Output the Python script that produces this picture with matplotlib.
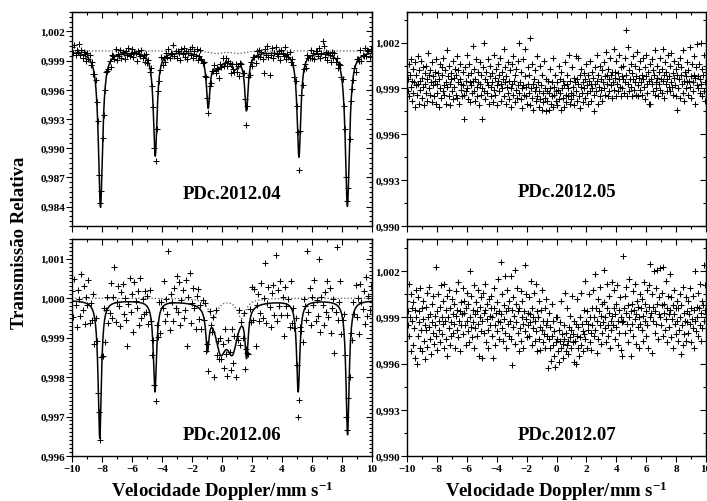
import numpy as np
import matplotlib
matplotlib.use('Agg')
import matplotlib.pyplot as plt
from matplotlib.ticker import MultipleLocator, FuncFormatter, NullFormatter

plt.rcParams['font.family'] = ['Liberation Serif', 'DejaVu Serif']
plt.rcParams['font.weight'] = 'bold'
plt.rcParams['mathtext.fontset'] = 'custom'
plt.rcParams['mathtext.rm'] = 'Liberation Serif:bold'
plt.rcParams['mathtext.it'] = 'Liberation Serif:bold'
plt.rcParams['mathtext.bf'] = 'Liberation Serif:bold'

# transmission readings, units of 1e-5 (100000 = 1,000)
# left panels: 256 channels, right panels: 512 channels, velocity -10..10 mm/s
t04 = [
    100037, 99981, 100060, 99954, 100007, 99990, 100072, 99960, 100011, 99927, 99993, 99972, 99895, 99977, 99916, 99960,
    99856, 99882, 99761, 99763, 99704, 99476, 99276, 98729, 98441, 98562, 99103, 99345, 99601, 99788, 99793, 99818,
    99900, 99839, 99960, 99943, 99921, 100021, 99905, 99968, 99951, 100013, 99930, 99992, 99975, 99917, 100002, 99958,
    100033, 99949, 99969, 100019, 99933, 99992, 99981, 99895, 100003, 99967, 99943, 100014, 99926, 99963, 99890, 99970,
    99874, 99905, 99783, 99820, 99640, 99428, 99000, 98870, 99198, 99585, 99693, 99807, 99933, 99857, 99930, 99890,
    99981, 99938, 100023, 99922, 99980, 99970, 100057, 99948, 100004, 99925, 99995, 99980, 99910, 100020, 99969, 100028,
    99942, 99997, 99916, 99981, 100020, 99958, 100042, 99930, 99999, 99943, 100017, 99907, 99950, 100005, 99921, 99875,
    99890, 99744, 99735, 99520, 99360, 99644, 99666, 99795, 99794, 99860, 99771, 99827, 99809, 99720, 99862, 99836,
    99927, 99849, 99875, 99928, 99841, 99895, 99873, 99773, 99865, 99814, 99785, 99861, 99786, 99842, 99740, 99878,
    99862, 99772, 99773, 99510, 99240, 99434, 99729, 99754, 99882, 99841, 99935, 99935, 99877, 99994, 99950, 100014,
    99933, 99990, 99912, 99773, 100019, 99962, 100048, 99939, 99749, 99955, 100035, 99930, 99979, 100044, 99973, 99948,
    99996, 99910, 100013, 99980, 99947, 100038, 99914, 99969, 99935, 99984, 99881, 99914, 99854, 99727, 99695, 99432,
    99168, 98780, 99176, 99548, 99654, 99819, 99870, 99822, 99954, 99932, 99923, 100005, 99925, 99975, 99912, 100004,
    100001, 99947, 100029, 99924, 99979, 100098, 100048, 99937, 99990, 99907, 99975, 99957, 99883, 99988, 99932, 99983,
    99887, 99926, 99826, 99862, 99859, 99734, 99715, 99430, 99202, 98703, 98460, 98586, 99094, 99488, 99612, 99701,
    99823, 99784, 99921, 99913, 99899, 100006, 99896, 99963, 99944, 100029, 99948, 100011, 99994, 99936, 100023, 99980,
]

t05 = [
    100010, 99880, 99960, 100060, 99850, 99990, 99910, 100090, 99820, 99950, 100030, 99870, 99940, 99780, 100070, 99920,
    99990, 99860, 100110, 99930, 99800, 100020, 99950, 99890, 100080, 99840, 99970, 100040, 99910, 99790, 100000, 99930,
    99870, 100050, 99960, 99820, 100130, 99900, 99990, 99860, 100020, 99940, 99810, 100070, 99920, 99980, 99850, 100010,
    99950, 99800, 100090, 99930, 99870, 100000, 99780, 99960, 100060, 99900, 99840, 100040, 99990, 99880, 100100, 99920,
    99860, 100020, 99940, 99800, 100150, 99910, 99980, 99850, 100050, 99930, 99790, 100000, 99960, 99880, 100080, 99830,
    99970, 99910, 100030, 99860, 99990, 100110, 99840, 99940, 100020, 99800, 99960, 100060, 99890, 99930, 99850, 100010,
    99920, 99860, 99700, 100040, 99950, 99880, 100120, 99900, 99990, 99830, 100060, 99940, 99810, 100000, 99920, 99870,
    100180, 99950, 99880, 100030, 99820, 99960, 100090, 99910, 99850, 100010, 99940, 99790, 100070, 99930, 99860, 99990,
    99900, 99700, 100040, 100200, 99880, 99960, 99830, 100010, 99940, 99870, 100090, 99920, 99800, 99980, 100050, 99910,
    99850, 100000, 99940, 99810, 100120, 99890, 99970, 99860, 100030, 99920, 99790, 100060, 99950, 99880, 99990, 100100,
    99930, 99820, 100010, 99900, 99960, 100160, 99850, 99940, 100040, 99800, 99980, 99910, 100070, 99870, 99950, 99830,
    100020, 99900, 99780, 100060, 99930, 99860, 100110, 99950, 99810, 99990, 99890, 100030, 99840, 99920, 100080, 99870,
    100200, 99940, 99830, 100010, 99900, 99770, 100090, 99920, 99860, 99980, 100160, 99850, 99910, 99800, 100040, 99930,
    99870, 99990, 99790, 100230, 99900, 99840, 100060, 99930, 99760, 99960, 99880, 100020, 99820, 99910, 100110, 99850,
    99940, 99780, 99880, 100050, 99830, 99920, 99760, 99990, 99870, 99810, 100080, 99900, 99840, 99750, 99960, 99880,
    99820, 99950, 99870, 99760, 100030, 99900, 99800, 99940, 99850, 100100, 99780, 99910, 99860, 99990, 99820, 99880,
    99940, 99790, 99890, 100050, 99830, 99960, 99870, 99760, 100010, 99900, 99840, 99950, 99780, 99920, 100070, 99860,
    99810, 99930, 99990, 99850, 99900, 100120, 99800, 99950, 99870, 99830, 100040, 99910, 99860, 99970, 99790, 99940,
    100110, 99880, 99960, 99820, 100100, 99930, 99850, 99990, 99770, 99910, 100030, 99870, 99940, 99810, 100000, 99900,
    99960, 99840, 100060, 99920, 99870, 99990, 99800, 99950, 100080, 99880, 99930, 99820, 100010, 99900, 99970, 99750,
    99860, 100040, 99930, 99880, 100120, 99950, 99800, 99990, 99910, 100050, 99850, 99960, 99890, 100020, 99820, 99940,
    100070, 99900, 99980, 99860, 100140, 99930, 99990, 99850, 100030, 99960, 99880, 100100, 99920, 99990, 99840, 100010,
    99940, 100160, 99890, 100010, 99970, 99850, 100080, 99930, 100000, 99880, 99960, 100120, 99910, 99850, 100040, 99980,
    99900, 100050, 99960, 99870, 100100, 99940, 99990, 100280, 99850, 100170, 99930, 100020, 99880, 99960, 100060, 99910,
    99850, 100000, 99960, 100110, 99890, 99940, 100050, 99860, 99980, 100140, 99920, 99850, 100030, 99970, 99890, 100080,
    99940, 99990, 99860, 100100, 99960, 99910, 100040, 99830, 99980, 100120, 99930, 99870, 100010, 99950, 99800, 100060,
    99800, 99960, 100090, 99930, 99880, 100020, 99990, 99860, 100150, 99940, 99900, 100050, 99970, 99850, 100010, 99930,
    100100, 99890, 99960, 100030, 99870, 100160, 99950, 99990, 99840, 100070, 99930, 100010, 99880, 99960, 100120, 99910,
    99980, 100050, 99880, 99940, 100130, 99910, 100000, 99860, 99970, 100080, 99920, 99850, 100030, 99760, 99990, 100060,
    99900, 99960, 100100, 99840, 99990, 100040, 99930, 99870, 100150, 99950, 99820, 100010, 99980, 99900, 100070, 99940,
    99860, 100020, 99950, 100170, 99910, 99980, 99840, 100060, 99940, 99880, 100110, 99990, 99800, 99970, 100040, 99920,
    100190, 99900, 99980, 100060, 99870, 99960, 100200, 99930, 99850, 100030, 99990, 99880, 100120, 99940, 99820, 100010,
]

t06 = [
    100018, 99953, 100048, 99983, 99927, 100022, 99997, 99956, 100061, 99970, 100030, 99934, 100003, 99982, 100045, 99938,
    99989, 99944, 100011, 99884, 99951, 99891, 99759, 99712, 99640, 99850, 99854, 99976, 99890, 99969, 100002, 99938,
    99962, 100039, 99951, 100002, 100080, 99939, 99990, 100030, 99980, 99930, 100015, 100035, 99960, 100000, 99945, 99880,
    99985, 100050, 99965, 100010, 99915, 100040, 99994, 99974, 100018, 99932, 100051, 99950, 99998, 99961, 100018, 99964,
    100006, 99935, 100022, 99941, 99857, 99893, 99780, 99740, 99933, 99902, 99991, 99912, 99990, 99976, 100044, 99941,
    99998, 99959, 100120, 99920, 100010, 99991, 99941, 100026, 99976, 100056, 99966, 100041, 99931, 99996, 100021, 99950,
    99970, 100045, 99880, 100004, 100064, 99938, 99987, 100026, 99975, 99923, 100006, 100024, 99946, 99982, 99922, 99995,
    99944, 99988, 99866, 99885, 99816, 99967, 99932, 99914, 99953, 99800, 99969, 99855, 99892, 99845, 99898, 99846,
    99883, 99823, 99921, 99858, 99803, 99893, 99864, 99818, 99922, 99836, 99905, 99800, 99903, 99895, 99971, 99881,
    99940, 99898, 99963, 99821, 99872, 99862, 99859, 99973, 99939, 100028, 99944, 100024, 99880, 99983, 100010, 99941,
    99963, 100039, 99950, 100001, 100090, 99937, 99988, 100028, 99978, 99928, 100013, 100033, 99958, 100110, 99942, 100021,
    99980, 100044, 99958, 100002, 99905, 100028, 99981, 99958, 99999, 99927, 100043, 99936, 99976, 99924, 99950, 99830,
    99700, 99743, 99928, 99917, 99889, 99997, 99980, 99944, 100120, 99965, 100026, 99932, 100002, 99982, 100047, 99942,
    99996, 99956, 100100, 99915, 100004, 99983, 99932, 100016, 99965, 100044, 99952, 100025, 99913, 99976, 99998, 99860,
    99964, 100130, 99944, 99990, 100044, 99910, 99945, 99959, 99856, 99698, 99665, 99747, 99800, 99912, 99893, 99991,
    99961, 100033, 99953, 100001, 99908, 100035, 99991, 99972, 100018, 99934, 100054, 99955, 100005, 99970, 100031, 99981,
]

t07 = [
    100010, 99850, 99940, 100120, 99780, 99900, 99680, 100050, 99880, 99960, 99720, 100000, 99830, 99640, 99950, 100080,
    99900, 99600, 99780, 100030, 99870, 99940, 99700, 100090, 99820, 99960, 99680, 99890, 100010, 99750, 99850, 99630,
    99970, 99820, 100060, 99710, 99900, 99840, 100100, 99760, 99920, 99660, 99990, 99870, 99800, 100040, 99730, 99910,
    99850, 100230, 99780, 99940, 99690, 100050, 99880, 99820, 99970, 99740, 100110, 99900, 99790, 99860, 100010, 99700,
    100120, 99880, 99760, 99950, 100040, 99650, 99900, 99830, 100080, 99720, 99960, 99870, 99780, 100020, 99920, 99800,
    99860, 99990, 99700, 100070, 99910, 99820, 99950, 100130, 99770, 99880, 99940, 99680, 100000, 99850, 99920, 100090,
    99790, 99930, 100010, 99850, 99720, 99960, 100060, 99880, 99810, 99990, 99740, 100200, 99900, 99840, 100040, 99770,
    99950, 99870, 100110, 99700, 99920, 99830, 100000, 99780, 99940, 100080, 99860, 99650, 99970, 99900, 99810, 100030,
    99640, 99880, 100060, 99930, 99800, 99950, 100120, 99740, 99890, 99990, 99820, 99700, 100020, 99910, 99850, 99960,
    100040, 99780, 99900, 99640, 99960, 100090, 99850, 99720, 99930, 100000, 99810, 99880, 100150, 99760, 99940, 99870,
    100260, 99920, 99830, 100050, 99750, 99980, 99890, 100170, 99800, 99940, 99700, 100080, 99860, 99960, 99780, 100010,
    99880, 100170, 99760, 99950, 99590, 100030, 99840, 99910, 100210, 99730, 99990, 99870, 100090, 99800, 99940, 99680,
    99960, 99830, 100070, 99750, 99900, 100010, 99860, 99700, 99940, 100240, 99810, 99890, 100050, 99770, 99930, 99850,
    100030, 99780, 99920, 99870, 100140, 99720, 99960, 99830, 99900, 100060, 99750, 99880, 100120, 99810, 99940, 99680,
    99900, 99760, 100010, 99840, 99690, 99950, 99820, 100080, 99740, 99880, 99790, 99960, 99700, 99850, 100020, 99780,
    99880, 99570, 99760, 99930, 99700, 99840, 99620, 99990, 99780, 99720, 99880, 99650, 99810, 99580, 99900, 99740,
    99760, 99900, 99680, 99820, 99610, 99750, 99870, 99700, 100010, 99790, 99640, 99730, 99850, 99760, 100060, 99680,
    99800, 99720, 99960, 99750, 99660, 99840, 99770, 99910, 99700, 99820, 100040, 99740, 99790, 99610, 99880, 99750,
    99600, 99860, 99780, 100020, 99700, 99840, 99650, 99900, 99770, 100060, 99720, 99860, 99810, 99680, 99950, 99790,
    100140, 99760, 99880, 99700, 99940, 99820, 99860, 100050, 99740, 99900, 99800, 99690, 99960, 99850, 100080, 99780,
    99900, 100180, 99820, 99960, 99670, 99880, 100020, 99760, 99940, 99850, 100100, 99730, 99910, 99800, 99990, 99870,
    100000, 100210, 99830, 99900, 99740, 99960, 100120, 99850, 99780, 99930, 100040, 99700, 99880, 99820, 100130, 99910,
    99850, 99960, 100080, 99760, 99920, 99840, 99990, 100110, 99720, 99880, 99950, 99800, 100030, 99690, 99900, 99870,
    99650, 100300, 99880, 99960, 100040, 99800, 99930, 100100, 99860, 99740, 99980, 99900, 100150, 99820, 99940, 99650,
    99990, 99860, 100070, 99780, 99950, 99890, 100120, 99730, 99920, 100010, 99840, 99970, 99700, 99900, 100050, 99860,
    99960, 99820, 100020, 99910, 99750, 100130, 99880, 99990, 99780, 99940, 100080, 99850, 99700, 99970, 100110, 99900,
    100250, 99930, 99670, 100050, 99880, 99970, 100200, 99800, 99940, 100090, 99860, 99990, 100210, 99760, 99920, 100030,
    99900, 100220, 99850, 99980, 100060, 99780, 100230, 99930, 99990, 99820, 100140, 99890, 99960, 99740, 100040, 99920,
    99840, 100180, 99950, 99770, 100030, 99890, 99980, 99700, 99920, 100080, 99860, 99960, 99790, 100010, 99880, 99750,
    99960, 99820, 100050, 99900, 99660, 99980, 99850, 99720, 100100, 99930, 99790, 99880, 100030, 99750, 99940, 99870,
    100010, 99800, 99920, 99860, 100090, 99740, 99960, 99890, 99830, 100040, 99700, 99950, 99880, 100200, 99810, 99970,
    99900, 100060, 99780, 99960, 99850, 100120, 99750, 99930, 100010, 99830, 99980, 100240, 99880, 99950, 100110, 99920,
]

# fitted sextets (position mm/s, depth, half width)
pos04 = [-8.10, -4.45, -0.92, 1.63, 5.13, 8.36]
dep04 = [0.0160, 0.0107, 0.0053, 0.0057, 0.0108, 0.0159]
hw04 = [0.17, 0.15, 0.14, 0.14, 0.15, 0.17]
cen04_pos = [-0.30, 0.85]
cen04_dep = [0.0015, 0.0015]
cen04_hw = [0.40, 0.40]
dot04_pos = [-0.40, 1.10]
dot04_dep = [0.00025, 0.00025]
dot04_hw = [0.50, 0.50]

pos06 = [-8.15, -4.47, -0.97, 1.64, 5.08, 8.37]
dep06 = [0.0035, 0.0023, 0.0010, 0.0012, 0.0023, 0.0034]
hw06 = [0.13, 0.13, 0.13, 0.13, 0.13, 0.13]
cen06_pos = [-0.10, 0.70]
cen06_dep = [0.0011, 0.0011]
cen06_hw = [0.45, 0.45]
dot06_pos = [-0.60, 1.30]
dot06_dep = [0.0005, 0.0005]
dot06_hw = [0.35, 0.35]

base = 0.99995


def lorentz(v, pos, dep, hw):
    out = np.zeros_like(v)
    for p, d, g in zip(pos, dep, hw):
        out += d / (1 + ((v - p) / g) ** 2)
    return out


def comma(val, pos):
    return f'{val:.3f}'.replace('.', ',')


v_fine = np.linspace(-10, 10, 2001)

W, H = 707, 502
fig = plt.figure(figsize=(W / 100, H / 100), dpi=100)
ax04 = fig.add_axes([72 / W, 1 - 227 / H, 300 / W, 214 / H])
ax05 = fig.add_axes([407 / W, 1 - 227 / H, 299 / W, 214 / H])
ax06 = fig.add_axes([72 / W, 1 - 457 / H, 300 / W, 217 / H])
ax07 = fig.add_axes([407 / W, 1 - 457 / H, 299 / W, 217 / H])

panels = [
    (ax04, t04, (0.982, 1.004), 0.003, 0.0005, 'PDc.2012.04', 0.154, False),
    (ax05, t05, (0.990, 1.004), 0.003, 0.0015, 'PDc.2012.05', 0.159, False),
    (ax06, t06, (0.996, 1.0015), 0.001, 0.0001, 'PDc.2012.06', 0.097, True),
    (ax07, t07, (0.990, 1.0041), 0.003, 0.0015, 'PDc.2012.07', 0.097, True),
]

for ax, t, ylim, major, minor, name, ly, bottom in panels:
    v = np.linspace(-10, 10, len(t))
    ax.plot(v, np.array(t) / 1e5, '+', color='black', ms=4, mew=0.75, zorder=3)
    ax.set_xlim(-10, 10)
    ax.set_ylim(*ylim)
    ax.xaxis.set_major_locator(MultipleLocator(2))
    ax.xaxis.set_minor_locator(MultipleLocator(1))
    ax.yaxis.set_major_locator(MultipleLocator(major))
    ax.yaxis.set_minor_locator(MultipleLocator(minor))
    ax.yaxis.set_major_formatter(FuncFormatter(comma))
    ax.tick_params(which='both', direction='out', top=False, right=False,
                   labelsize=8, pad=1, width=0.8)
    ax.tick_params(which='major', length=4)
    ax.tick_params(which='minor', length=2)
    ax.tick_params(axis='x', pad=2)
    for s in ax.spines.values():
        s.set_linewidth(1.0)
    if not bottom:
        ax.xaxis.set_major_formatter(NullFormatter())
    else:
        ax.set_xlabel('Velocidade Doppler/mm s$^{-1}$', fontsize=13.5,
                      fontweight='bold', labelpad=4)
    for lab in ax.get_xticklabels() + ax.get_yticklabels():
        lab.set_fontweight('bold')

    top = ax.secondary_xaxis('top')
    top.xaxis.set_major_locator(MultipleLocator(2))
    top.xaxis.set_minor_locator(MultipleLocator(1))
    top.xaxis.set_major_formatter(NullFormatter())
    top.tick_params(which='both', direction='in', width=0.8)
    top.tick_params(which='major', length=4)
    top.tick_params(which='minor', length=2)

    right = ax.secondary_yaxis('right')
    right.yaxis.set_major_locator(MultipleLocator(major))
    right.yaxis.set_minor_locator(MultipleLocator(minor))
    right.yaxis.set_major_formatter(NullFormatter())
    right.tick_params(which='both', direction='in', width=0.8)
    right.tick_params(which='major', length=4)
    right.tick_params(which='minor', length=2)

    ax.text(0.535, ly, name, transform=ax.transAxes, ha='center', va='center',
            fontsize=13.5, fontweight='bold')

fit04 = base - lorentz(v_fine, pos04, dep04, hw04) - lorentz(v_fine, cen04_pos, cen04_dep, cen04_hw)
ax04.plot(v_fine, 1.0 - lorentz(v_fine, dot04_pos, dot04_dep, dot04_hw), ':', color='#555555', lw=0.9, zorder=2)
ax04.plot(v_fine, fit04, '-', color='black', lw=1.1, zorder=2)

fit06 = base - lorentz(v_fine, pos06, dep06, hw06) - lorentz(v_fine, cen06_pos, cen06_dep, cen06_hw)
ax06.plot(v_fine, 1.0 - lorentz(v_fine, dot06_pos, dot06_dep, dot06_hw), ':', color='#555555', lw=0.9, zorder=2)
ax06.plot(v_fine, fit06, '-', color='black', lw=1.1, zorder=2)

fig.text(20 / W, 1 - 243 / H, 'Transmissão Relativa', rotation=90, ha='center',
         va='center', fontsize=13.5, fontweight='bold')

fig.savefig('out.png', dpi=100)
